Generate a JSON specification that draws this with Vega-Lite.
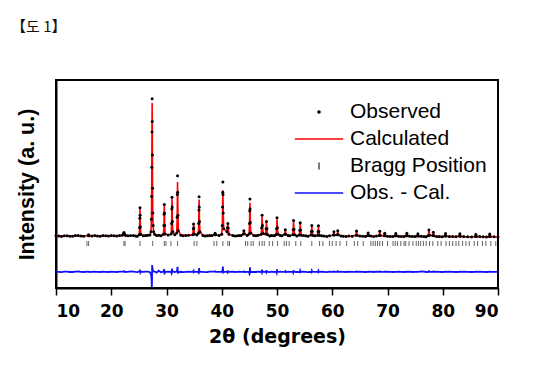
{
  "$schema": "https://vega.github.io/schema/vega-lite/v6.json",
  "width": 442,
  "height": 208,
  "autosize": {"type": "none"},
  "padding": {"left": 56, "top": 80, "right": 46, "bottom": 80},
  "background": "white",
  "title": {"text": "【도 1】", "anchor": "start", "frame": "group", "dx": -45, "offset": 45, "font": "Noto Sans CJK KR", "fontSize": 15, "fontWeight": "normal", "color": "#111111"},
  "config": {
    "view": {"stroke": "black", "strokeWidth": 2},
    "axis": {"grid": false, "domainColor": "black", "domainWidth": 2, "tickColor": "black", "labelColor": "black", "titleColor": "black"},
    "legend": {"labelFontSize": 21, "labelFont": "Liberation Sans", "labelColor": "black", "symbolSize": 484, "symbolOpacity": 1, "symbolStrokeWidth": 0, "rowPadding": 6, "labelOffset": 20, "labelLimit": 300}
  },
  "datasets": {
    "pattern": [
      {"t":10,"o":25.2,"c":25,"d":7.9},{"t":10.5,"o":25.0,"c":25,"d":7.8},{"t":11,"o":24.8,"c":25,"d":7.6},{"t":11.5,"o":25.1,"c":25,"d":7.9},{"t":12,"o":25.1,"c":25,"d":7.9},{"t":12.5,"o":24.9,"c":25,"d":7.7},{"t":13,"o":24.9,"c":25,"d":7.7},{"t":13.5,"o":25.2,"c":25,"d":7.9},{"t":14,"o":25.3,"c":25,"d":8.0},{"t":14.5,"o":25.0,"c":25,"d":7.8},{"t":15,"o":24.9,"c":25,"d":7.7},
      {"t":15.8,"o":25.3,"c":25.2,"d":7.9},{"t":15.9,"o":25.6,"c":25.5,"d":7.9},{"t":16.0,"o":25.1,"c":25.2,"d":7.7},
      {"t":16.5,"o":25.0,"c":25,"d":7.8},{"t":17,"o":25.2,"c":25,"d":7.9},{"t":17.5,"o":25.0,"c":25,"d":7.8},{"t":18,"o":24.9,"c":25,"d":7.7},{"t":18.5,"o":25.2,"c":25,"d":7.9},{"t":19,"o":25.1,"c":25,"d":7.8},{"t":19.5,"o":25.0,"c":25.1,"d":7.7},{"t":20,"o":25.3,"c":25.1,"d":7.9},{"t":20.5,"o":25.1,"c":25.1,"d":7.8},{"t":21,"o":25.0,"c":25.1,"d":7.7},{"t":21.5,"o":25.3,"c":25.2,"d":7.9},
      {"t":22.0,"o":25.4,"c":25.3,"d":7.9},{"t":22.2,"o":26.1,"c":26.0,"d":7.9},{"t":22.3,"o":26.7,"c":26.4,"d":8.1},{"t":22.4,"o":26.0,"c":26.1,"d":7.7},{"t":22.6,"o":25.3,"c":25.3,"d":7.8},
      {"t":23,"o":25.1,"c":25.1,"d":7.8},{"t":23.5,"o":25.3,"c":25.1,"d":8.0},{"t":24,"o":25.2,"c":25.1,"d":7.9},{"t":24.4,"o":25.0,"c":25.1,"d":7.7},{"t":24.7,"o":24.9,"c":25.1,"d":7.6},
      {"t":25.05,"o":25.6,"c":25.5,"d":7.9},{"t":25.13,"o":29,"c":28.5,"d":8.2},{"t":25.17,"o":33.5,"c":34,"d":7.5},{"t":25.2,"o":38.6,"c":38,"d":8.3},{"t":25.23,"o":35,"c":34.5,"d":8.1},{"t":25.27,"o":29.5,"c":29.8,"d":7.5},{"t":25.35,"o":25.8,"c":25.6,"d":7.9},
      {"t":25.8,"o":25.1,"c":25.1,"d":7.8},{"t":26.2,"o":25.3,"c":25.2,"d":7.9},{"t":26.6,"o":25.4,"c":25.2,"d":7.9},
      {"t":27.0,"o":25.5,"c":25.6,"d":7.6},{"t":27.2,"o":27,"c":27.5,"d":6.5},{"t":27.28,"o":33,"c":35,"d":5.0},{"t":27.32,"o":44,"c":47,"d":2.5},{"t":27.35,"o":58,"c":62,"d":0.5},{"t":27.38,"o":75,"c":78,"d":4},{"t":27.4,"o":91,"c":89,"d":11},{"t":27.42,"o":80,"c":79,"d":9.5},{"t":27.45,"o":64,"c":62,"d":10},{"t":27.48,"o":48,"c":46,"d":9.5},{"t":27.52,"o":36,"c":35,"d":8.6},{"t":27.58,"o":30,"c":29.5,"d":8.3},{"t":27.68,"o":27,"c":26.8,"d":8.0},{"t":27.85,"o":25.8,"c":25.7,"d":7.9},
      {"t":28.2,"o":25.2,"c":25.3,"d":7.4},{"t":28.6,"o":25.4,"c":25.2,"d":8.3},{"t":29.0,"o":25.1,"c":25.2,"d":7.6},
      {"t":29.45,"o":25.8,"c":25.7,"d":7.9},{"t":29.53,"o":30,"c":29.5,"d":8.6},{"t":29.57,"o":35.5,"c":35,"d":8.5},{"t":29.6,"o":40.2,"c":39.5,"d":9.0},{"t":29.63,"o":36,"c":37,"d":6.5},{"t":29.67,"o":30,"c":30.5,"d":7.2},{"t":29.75,"o":26,"c":26,"d":7.8},
      {"t":30.3,"o":25.5,"c":25.4,"d":7.9},
      {"t":30.85,"o":26,"c":26,"d":7.8},{"t":30.93,"o":31,"c":31.5,"d":7.0},{"t":30.97,"o":38,"c":38.5,"d":7.2},{"t":31.0,"o":43.6,"c":43,"d":9.3},{"t":31.03,"o":39,"c":39,"d":8.5},{"t":31.07,"o":32,"c":31.5,"d":8.4},{"t":31.15,"o":27,"c":26.8,"d":7.9},
      {"t":31.5,"o":25.6,"c":25.7,"d":7.7},
      {"t":31.85,"o":26.5,"c":26.4,"d":7.9},{"t":31.93,"o":34,"c":33,"d":8.8},{"t":31.97,"o":45,"c":43,"d":9.5},{"t":32.0,"o":54,"c":51,"d":10.2},{"t":32.03,"o":46,"c":45,"d":8.8},{"t":32.07,"o":35,"c":35.5,"d":7.0},{"t":32.15,"o":27.5,"c":27.6,"d":7.6},
      {"t":32.6,"o":25.4,"c":25.4,"d":7.8},{"t":33.0,"o":25.1,"c":25.3,"d":7.6},{"t":33.5,"o":25.3,"c":25.3,"d":7.8},{"t":34.0,"o":25.4,"c":25.3,"d":7.9},
      {"t":34.75,"o":25.6,"c":25.6,"d":7.8},{"t":34.85,"o":28.5,"c":28.2,"d":8.1},{"t":34.9,"o":30.8,"c":30.4,"d":8.3},{"t":34.95,"o":28.8,"c":29,"d":7.6},{"t":35.05,"o":26,"c":26,"d":7.8},
      {"t":35.5,"o":25.5,"c":25.5,"d":7.8},
      {"t":35.77,"o":26.3,"c":26.2,"d":7.9},{"t":35.83,"o":31,"c":31.5,"d":7.2},{"t":35.87,"o":37.5,"c":38,"d":7.3},{"t":35.9,"o":43.9,"c":42.5,"d":9.6},{"t":35.93,"o":39,"c":39.5,"d":7.4},{"t":35.97,"o":32,"c":31.5,"d":8.3},{"t":36.05,"o":27,"c":27,"d":7.8},
      {"t":36.6,"o":25.3,"c":25.3,"d":7.8},{"t":37.0,"o":25.0,"c":25.2,"d":7.6},{"t":37.4,"o":25.1,"c":25.2,"d":7.7},{"t":37.8,"o":25.3,"c":25.2,"d":7.9},{"t":38.2,"o":25.3,"c":25.2,"d":7.9},
      {"t":38.7,"o":25.6,"c":25.5,"d":7.9},{"t":38.8,"o":26.3,"c":26.1,"d":8.0},{"t":38.9,"o":25.6,"c":25.6,"d":7.8},
      {"t":39.5,"o":25.2,"c":25.2,"d":7.8},
      {"t":40.0,"o":25.8,"c":25.8,"d":7.8},{"t":40.1,"o":30,"c":29.5,"d":8.3},{"t":40.15,"o":39,"c":38,"d":8.6},{"t":40.18,"o":46,"c":44,"d":9.0},{"t":40.2,"o":51,"c":47,"d":10.3},{"t":40.23,"o":45,"c":43,"d":9.1},{"t":40.27,"o":36,"c":36,"d":7.6},{"t":40.35,"o":28.5,"c":28.5,"d":7.8},
      {"t":40.95,"o":27,"c":27,"d":7.8},{"t":41.03,"o":29,"c":29.2,"d":7.5},{"t":41.1,"o":31,"c":30.5,"d":8.4},{"t":41.17,"o":28.8,"c":29,"d":7.6},{"t":41.3,"o":25.8,"c":25.8,"d":7.8},
      {"t":42.0,"o":25.3,"c":25.2,"d":7.9},{"t":42.4,"o":25.0,"c":25.1,"d":7.7},{"t":42.8,"o":25.1,"c":25.1,"d":7.8},{"t":43.2,"o":25.3,"c":25.1,"d":7.9},{"t":43.5,"o":25.2,"c":25.1,"d":7.8},
      {"t":43.9,"o":26,"c":26,"d":7.8},{"t":44.0,"o":27.5,"c":27.3,"d":8.0},{"t":44.1,"o":26.1,"c":26.2,"d":7.7},
      {"t":44.6,"o":25.3,"c":25.3,"d":7.8},
      {"t":44.95,"o":26,"c":26,"d":7.8},{"t":45.03,"o":31,"c":31.5,"d":6.8},{"t":45.07,"o":37,"c":37.5,"d":7.0},{"t":45.1,"o":42.8,"c":41,"d":10.0},{"t":45.13,"o":38,"c":38,"d":8.4},{"t":45.17,"o":31.5,"c":31,"d":8.2},{"t":45.25,"o":26.5,"c":26.5,"d":7.8},
      {"t":45.8,"o":25.2,"c":25.3,"d":7.7},{"t":46.2,"o":25.1,"c":25.2,"d":7.7},{"t":46.6,"o":25.4,"c":25.3,"d":7.9},
      {"t":47.15,"o":25.8,"c":25.8,"d":7.8},{"t":47.23,"o":29,"c":29.3,"d":7.4},{"t":47.3,"o":35,"c":34.3,"d":8.8},{"t":47.37,"o":30,"c":30,"d":7.9},{"t":47.5,"o":26.2,"c":26.2,"d":7.8},
      {"t":47.95,"o":26,"c":26,"d":7.8},{"t":48.03,"o":28.5,"c":28.7,"d":7.5},{"t":48.1,"o":32,"c":31.5,"d":8.6},{"t":48.17,"o":28.5,"c":28.5,"d":7.8},{"t":48.3,"o":25.6,"c":25.6,"d":7.8},
      {"t":48.7,"o":25.0,"c":25.2,"d":7.6},{"t":49.0,"o":25.3,"c":25.2,"d":7.9},{"t":49.4,"o":25.1,"c":25.2,"d":7.7},{"t":49.6,"o":25.2,"c":25.2,"d":7.8},
      {"t":49.85,"o":25.7,"c":25.7,"d":7.8},{"t":49.93,"o":28.5,"c":28.8,"d":7.3},{"t":50.0,"o":33.8,"c":33,"d":9.0},{"t":50.07,"o":29,"c":29,"d":7.9},{"t":50.2,"o":25.8,"c":25.8,"d":7.8},
      {"t":50.6,"o":25.2,"c":25.1,"d":7.9},{"t":50.9,"o":25.1,"c":25.1,"d":7.8},
      {"t":51.4,"o":25.8,"c":25.8,"d":7.8},{"t":51.5,"o":28,"c":27.8,"d":8.1},{"t":51.6,"o":25.9,"c":26,"d":7.6},
      {"t":52.0,"o":25.2,"c":25.1,"d":7.9},{"t":52.3,"o":25.1,"c":25.1,"d":7.8},
      {"t":52.85,"o":25.6,"c":25.6,"d":7.8},{"t":52.93,"o":28,"c":28.3,"d":7.4},{"t":53.0,"o":32.4,"c":31.8,"d":8.6},{"t":53.07,"o":28.2,"c":28.2,"d":7.8},{"t":53.2,"o":25.6,"c":25.6,"d":7.8},
      {"t":53.6,"o":25.0,"c":25.1,"d":7.7},
      {"t":54.05,"o":25.5,"c":25.5,"d":7.8},{"t":54.13,"o":27.8,"c":28,"d":7.6},{"t":54.2,"o":31.4,"c":31,"d":8.4},{"t":54.27,"o":27.9,"c":27.8,"d":7.9},{"t":54.4,"o":25.4,"c":25.4,"d":7.8},
      {"t":54.8,"o":25.2,"c":25.1,"d":7.9},{"t":55.2,"o":25.1,"c":25.1,"d":7.8},{"t":55.6,"o":24.9,"c":25.1,"d":7.6},
      {"t":56.15,"o":25.5,"c":25.5,"d":7.8},{"t":56.23,"o":27.2,"c":27.4,"d":7.6},{"t":56.3,"o":30,"c":29.6,"d":8.3},{"t":56.37,"o":27.3,"c":27.3,"d":7.8},{"t":56.5,"o":25.3,"c":25.3,"d":7.8},
      {"t":56.9,"o":25.1,"c":25.1,"d":7.8},
      {"t":57.35,"o":25.4,"c":25.4,"d":7.8},{"t":57.43,"o":27.1,"c":27.3,"d":7.6},{"t":57.5,"o":29.9,"c":29.4,"d":8.3},{"t":57.57,"o":27.2,"c":27.1,"d":7.9},{"t":57.7,"o":25.3,"c":25.3,"d":7.8},
      {"t":58.1,"o":25.1,"c":25.0,"d":7.9},{"t":58.5,"o":25.0,"c":25.0,"d":7.8},{"t":59.0,"o":24.8,"c":25.0,"d":7.6},{"t":59.5,"o":25.1,"c":25.0,"d":7.9},
      {"t":60.2,"o":25.5,"c":25.5,"d":7.8},{"t":60.3,"o":27,"c":26.8,"d":8.0},{"t":60.4,"o":25.5,"c":25.5,"d":7.8},
      {"t":60.9,"o":25.6,"c":25.6,"d":7.8},{"t":61.0,"o":27.5,"c":27.2,"d":8.1},{"t":61.1,"o":25.6,"c":25.6,"d":7.8},
      {"t":61.6,"o":25.0,"c":24.9,"d":7.9},{"t":62.0,"o":24.9,"c":24.9,"d":7.8},{"t":62.5,"o":24.8,"c":24.9,"d":7.7},{"t":63.0,"o":25.0,"c":24.9,"d":7.9},{"t":63.6,"o":24.9,"c":24.9,"d":7.8},
      {"t":64.3,"o":25.4,"c":25.4,"d":7.8},{"t":64.4,"o":27.4,"c":27.2,"d":8.0},{"t":64.5,"o":25.4,"c":25.4,"d":7.8},
      {"t":65.0,"o":25.0,"c":24.9,"d":7.9},{"t":65.5,"o":24.9,"c":24.9,"d":7.8},{"t":66.0,"o":24.8,"c":24.9,"d":7.7},
      {"t":66.4,"o":25.2,"c":25.2,"d":7.8},{"t":66.5,"o":26.4,"c":26.3,"d":7.9},{"t":66.6,"o":25.2,"c":25.2,"d":7.8},
      {"t":67.0,"o":25.0,"c":24.9,"d":7.9},{"t":67.5,"o":24.8,"c":24.9,"d":7.7},{"t":68.0,"o":25.0,"c":24.9,"d":7.9},
      {"t":68.5,"o":25.3,"c":25.3,"d":7.8},{"t":68.6,"o":27.3,"c":27.1,"d":8.0},{"t":68.7,"o":25.3,"c":25.3,"d":7.8},
      {"t":69.4,"o":25.1,"c":25.1,"d":7.8},{"t":69.5,"o":26.3,"c":26.2,"d":7.9},{"t":69.6,"o":25.1,"c":25.1,"d":7.8},
      {"t":70.0,"o":24.9,"c":24.8,"d":7.9},{"t":70.5,"o":24.8,"c":24.8,"d":7.8},{"t":71.0,"o":24.7,"c":24.8,"d":7.7},
      {"t":71.4,"o":25.1,"c":25.1,"d":7.8},{"t":71.5,"o":26.2,"c":26.2,"d":7.8},{"t":71.6,"o":25.1,"c":25.1,"d":7.8},
      {"t":72.0,"o":24.9,"c":24.8,"d":7.9},{"t":72.5,"o":24.8,"c":24.8,"d":7.8},{"t":73.0,"o":24.7,"c":24.8,"d":7.7},
      {"t":73.4,"o":25.1,"c":25.1,"d":7.8},{"t":73.5,"o":26.3,"c":26.2,"d":7.9},{"t":73.6,"o":25.1,"c":25.1,"d":7.8},
      {"t":74.0,"o":24.9,"c":24.8,"d":7.9},{"t":74.5,"o":24.7,"c":24.8,"d":7.7},{"t":75.0,"o":24.8,"c":24.8,"d":7.8},
      {"t":75.4,"o":25.0,"c":25.0,"d":7.8},{"t":75.5,"o":26.1,"c":26.1,"d":7.8},{"t":75.6,"o":25.0,"c":25.0,"d":7.8},
      {"t":76.1,"o":24.9,"c":24.7,"d":8.0},{"t":76.6,"o":24.8,"c":24.7,"d":7.9},{"t":77.0,"o":24.6,"c":24.7,"d":7.7},
      {"t":77.4,"o":25.3,"c":25.3,"d":7.8},{"t":77.5,"o":27.9,"c":27.6,"d":8.1},{"t":77.6,"o":25.4,"c":25.4,"d":7.8},
      {"t":78.2,"o":25.2,"c":25.2,"d":7.8},{"t":78.3,"o":26.8,"c":26.6,"d":8.0},{"t":78.4,"o":25.1,"c":25.1,"d":7.8},
      {"t":78.9,"o":24.8,"c":24.7,"d":7.9},{"t":79.4,"o":24.7,"c":24.7,"d":7.8},{"t":79.9,"o":24.6,"c":24.7,"d":7.7},
      {"t":80.4,"o":25.0,"c":25.0,"d":7.8},{"t":80.5,"o":26.2,"c":26.1,"d":7.9},{"t":80.6,"o":25.0,"c":25.0,"d":7.8},
      {"t":81.2,"o":24.8,"c":24.7,"d":7.9},{"t":81.8,"o":24.7,"c":24.7,"d":7.8},{"t":82.4,"o":24.6,"c":24.7,"d":7.7},
      {"t":83.0,"o":25.0,"c":25.0,"d":7.8},{"t":83.1,"o":26.1,"c":26.0,"d":7.9},{"t":83.2,"o":24.9,"c":24.9,"d":7.8},
      {"t":83.8,"o":24.7,"c":24.6,"d":7.9},{"t":84.5,"o":24.6,"c":24.6,"d":7.8},{"t":85.2,"o":24.5,"c":24.6,"d":7.7},
      {"t":85.9,"o":24.8,"c":24.8,"d":7.8},{"t":86.0,"o":25.7,"c":25.6,"d":7.9},{"t":86.1,"o":24.8,"c":24.8,"d":7.8},
      {"t":86.7,"o":24.7,"c":24.6,"d":7.9},{"t":87.3,"o":24.6,"c":24.6,"d":7.8},{"t":87.9,"o":24.5,"c":24.6,"d":7.7},
      {"t":88.4,"o":24.8,"c":24.8,"d":7.8},{"t":88.5,"o":26.0,"c":25.9,"d":7.9},{"t":88.6,"o":24.8,"c":24.8,"d":7.8},
      {"t":89.3,"o":24.6,"c":24.6,"d":7.8},{"t":90,"o":24.5,"c":24.5,"d":7.8}
    ],
    "bragg": [
      {"t":15.6},{"t":15.9},{"t":22.3},{"t":22.5},{"t":25.2},{"t":27.5},{"t":29.6},{"t":29.9},{"t":30.8},{"t":32.0},{"t":35.0},{"t":35.5},{"t":38.6},{"t":39.1},{"t":40.2},{"t":41.1},{"t":41.4},{"t":44.3},{"t":44.7},{"t":45.3},{"t":45.7},{"t":46.8},{"t":47.3},{"t":47.7},{"t":48.6},{"t":49.2},{"t":50.1},{"t":51.3},{"t":51.7},{"t":52.2},{"t":53.4},{"t":54.3},{"t":56.3},{"t":57.7},{"t":58.3},{"t":59.5},{"t":60.0},{"t":60.7},{"t":61.4},{"t":62.6},{"t":64.0},{"t":64.6},{"t":65.6},{"t":67.0},{"t":67.4},{"t":67.8},{"t":68.2},{"t":68.6},{"t":69.1},{"t":70.0},{"t":71.0},{"t":71.4},{"t":71.8},{"t":72.4},{"t":73.0},{"t":73.3},{"t":73.9},{"t":74.6},{"t":75.2},{"t":75.6},{"t":76.0},{"t":76.5},{"t":77.0},{"t":77.6},{"t":78.2},{"t":79.1},{"t":79.7},{"t":80.6},{"t":81.2},{"t":81.8},{"t":82.4},{"t":82.9},{"t":83.6},{"t":84.2},{"t":84.8},{"t":85.7},{"t":86.3},{"t":87.2},{"t":87.8},{"t":88.7},{"t":89.6}
    ],
    "series": [
      {"s":"Observed"},{"s":"Calculated"},{"s":"Bragg Position"},{"s":"Obs. - Cal."}
    ]
  },
  "layer": [
    {
      "data": {"name": "pattern"},
      "mark": {"type": "line", "color": "#1010ff", "strokeWidth": 1.8},
      "encoding": {
        "x": {"field": "t", "type": "quantitative", "scale": {"domain": [10, 90], "nice": false},
          "axis": {"values": [10,15,20,25,30,35,40,45,50,55,60,65,70,75,80,85,90], "labelExpr": "datum.value % 10 === 0 ? datum.label : ''", "tickSize": {"condition": {"test": "datum.value % 10 === 0", "value": 7}, "value": 4}, "tickWidth": 1.5, "labelFont": "DejaVu Sans", "labelFontWeight": "bold", "labelFontSize": 17, "labelPadding": 8, "title": "2θ (degrees)", "titleFont": "DejaVu Sans", "titleFontWeight": "bold", "titleFontSize": 19, "titlePadding": 8}},
        "y": {"field": "d", "type": "quantitative", "scale": {"domain": [0, 100], "nice": false, "zero": false},
          "axis": {"labels": false, "ticks": false, "title": "Intensity (a. u.)", "titleFont": "Liberation Sans", "titleFontWeight": "bold", "titleFontSize": 21.5, "titlePadding": 18}}
      }
    },
    {
      "data": {"name": "bragg"},
      "mark": {"type": "tick", "orient": "vertical", "color": "#222222", "size": 5, "thickness": 1},
      "encoding": {
        "x": {"field": "t", "type": "quantitative"},
        "y": {"datum": 21.4, "type": "quantitative"}
      }
    },
    {
      "data": {"name": "pattern"},
      "mark": {"type": "line", "color": "#ff0000", "strokeWidth": 1.6},
      "encoding": {
        "x": {"field": "t", "type": "quantitative"},
        "y": {"field": "c", "type": "quantitative"}
      }
    },
    {
      "data": {"name": "pattern"},
      "mark": {"type": "point", "filled": true, "color": "black", "size": 9, "opacity": 1},
      "encoding": {
        "x": {"field": "t", "type": "quantitative"},
        "y": {"field": "o", "type": "quantitative"}
      }
    },
    {
      "data": {"name": "series"},
      "mark": {"type": "point", "filled": true, "opacity": 0},
      "encoding": {
        "color": {"field": "s", "type": "nominal",
          "scale": {"domain": ["Observed", "Calculated", "Bragg Position", "Obs. - Cal."], "range": ["black", "#ff0000", "#222222", "#1010ff"]},
          "legend": {"title": null, "orient": "none", "legendX": 252, "legendY": 21}},
        "shape": {"field": "s", "type": "nominal",
          "scale": {"domain": ["Observed", "Calculated", "Bragg Position", "Obs. - Cal."], "range": ["M-0.16,0A0.16,0.16,0,1,0,0.16,0A0.16,0.16,0,1,0,-0.16,0Z", "M-2.2,-0.07H2.2V0.07H-2.2Z", "M-0.055,-0.32H0.055V0.32H-0.055Z", "M-2.2,-0.07H2.2V0.07H-2.2Z"]},
          "legend": {"title": null, "orient": "none", "legendX": 252, "legendY": 21}}
      }
    }
  ]
}
